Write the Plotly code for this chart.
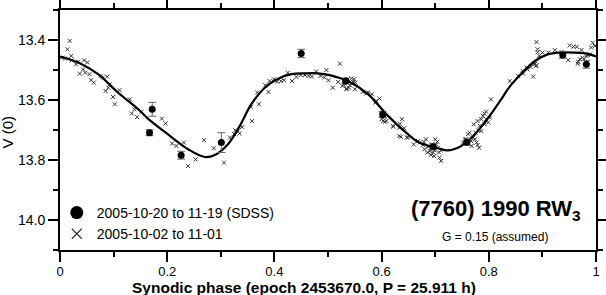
import plotly.graph_objects as go

# Fitted lightcurve
fit_phase = [0.000, 0.034, 0.071, 0.108, 0.146, 0.164, 0.201, 0.239, 0.270, 0.289, 0.313, 0.335,
             0.357, 0.382, 0.407, 0.432, 0.457, 0.481, 0.503, 0.537, 0.575, 0.612, 0.649, 0.670,
             0.705, 0.724, 0.749, 0.774, 0.799, 0.823, 0.838, 0.861, 0.886, 0.910, 0.935, 0.960,
             0.985, 1.000]
fit_mag = [13.455, 13.475, 13.514, 13.575, 13.631, 13.662, 13.714, 13.764, 13.790, 13.783, 13.748, 13.688,
           13.614, 13.559, 13.529, 13.514, 13.511, 13.511, 13.517, 13.537, 13.581, 13.653, 13.714, 13.742,
           13.761, 13.768, 13.753, 13.714, 13.659, 13.598, 13.558, 13.512, 13.470, 13.448, 13.442, 13.442,
           13.446, 13.455]

# SDSS points
sdss_phase = [0.172, 0.167, 0.226, 0.301, 0.450, 0.533, 0.602, 0.696, 0.759, 0.938, 0.982]
sdss_mag = [13.631, 13.709, 13.784, 13.742, 13.445, 13.537, 13.648, 13.756, 13.741, 13.450, 13.481]
sdss_err = [0.023, 0.010, 0.013, 0.033, 0.014, 0.010, 0.010, 0.010, 0.010, 0.011, 0.013]

# Other observations (crosses)
cross_phase = [0.004, 0.009, 0.014, 0.018, 0.021, 0.022, 0.030, 0.034, 0.037, 0.043, 0.045, 0.047,
               0.051, 0.055, 0.058, 0.063, 0.076, 0.080, 0.085, 0.088, 0.090, 0.093, 0.099, 0.102,
               0.111, 0.130, 0.134, 0.139, 0.144, 0.152, 0.190, 0.197, 0.209, 0.217, 0.231, 0.239,
               0.253, 0.269, 0.287, 0.306, 0.317, 0.325, 0.327, 0.332, 0.335, 0.340, 0.356, 0.358,
               0.368, 0.371, 0.383, 0.389, 0.391, 0.399, 0.405, 0.412, 0.418, 0.425, 0.433, 0.441,
               0.449, 0.457, 0.464, 0.470, 0.478, 0.486, 0.493, 0.497, 0.501, 0.509, 0.519, 0.522,
               0.527, 0.529, 0.531, 0.534, 0.535, 0.537, 0.539, 0.541, 0.544, 0.545, 0.547, 0.549,
               0.550, 0.551, 0.565, 0.572, 0.575, 0.582, 0.588, 0.590, 0.596, 0.600, 0.600, 0.603,
               0.606, 0.606, 0.609, 0.621, 0.622, 0.633, 0.633, 0.634, 0.636, 0.638, 0.642, 0.647,
               0.649, 0.660, 0.668, 0.671, 0.677, 0.679, 0.680, 0.683, 0.685, 0.687, 0.690, 0.692,
               0.693, 0.694, 0.696, 0.698, 0.699, 0.700, 0.702, 0.704, 0.705, 0.707, 0.708, 0.710,
               0.711, 0.752, 0.756, 0.758, 0.759, 0.761, 0.764, 0.767, 0.768, 0.771, 0.772, 0.774,
               0.775, 0.777, 0.779, 0.779, 0.781, 0.782, 0.783, 0.786, 0.786, 0.789, 0.792, 0.792,
               0.795, 0.795, 0.799, 0.802, 0.804, 0.839, 0.855, 0.863, 0.864, 0.871, 0.872, 0.878,
               0.883, 0.884, 0.886, 0.888, 0.889, 0.889, 0.891, 0.891, 0.894, 0.900, 0.911, 0.923,
               0.936, 0.948, 0.951, 0.958, 0.964, 0.966, 0.967, 0.970, 0.973, 0.975, 0.978, 0.982,
               0.985, 0.989, 0.991, 0.994, 0.998]
cross_mag = [13.459, 13.462, 13.431, 13.403, 13.453, 13.468, 13.481, 13.472, 13.512, 13.498, 13.468, 13.509,
             13.475, 13.514, 13.534, 13.542, 13.520, 13.525, 13.570, 13.522, 13.559, 13.548, 13.590, 13.614,
             13.567, 13.598, 13.645, 13.631, 13.657, 13.639, 13.662, 13.678, 13.745, 13.753, 13.742, 13.820,
             13.798, 13.734, 13.761, 13.809, 13.725, 13.714, 13.701, 13.705, 13.712, 13.690, 13.623, 13.670,
             13.575, 13.614, 13.551, 13.573, 13.537, 13.531, 13.539, 13.537, 13.534, 13.509, 13.537, 13.523,
             13.517, 13.517, 13.520, 13.522, 13.505, 13.520, 13.525, 13.500, 13.534, 13.559, 13.540, 13.479,
             13.553, 13.549, 13.537, 13.564, 13.562, 13.531, 13.559, 13.551, 13.528, 13.545, 13.540, 13.531,
             13.564, 13.542, 13.573, 13.578, 13.575, 13.581, 13.609, 13.603, 13.595, 13.664, 13.648, 13.670,
             13.673, 13.657, 13.670, 13.686, 13.689, 13.692, 13.720, 13.679, 13.723, 13.664, 13.694, 13.725,
             13.725, 13.748, 13.737, 13.742, 13.750, 13.739, 13.764, 13.731, 13.775, 13.756, 13.770, 13.783,
             13.761, 13.748, 13.775, 13.787, 13.768, 13.731, 13.748, 13.739, 13.759, 13.775, 13.792, 13.768,
             13.803, 13.742, 13.731, 13.731, 13.742, 13.714, 13.709, 13.737, 13.753, 13.725, 13.681, 13.731,
             13.709, 13.742, 13.750, 13.670, 13.701, 13.759, 13.686, 13.703, 13.664, 13.653, 13.645, 13.681,
             13.664, 13.639, 13.675, 13.659, 13.598, 13.537, 13.520, 13.503, 13.512, 13.492, 13.498, 13.490,
             13.522, 13.479, 13.480, 13.487, 13.484, 13.407, 13.431, 13.441, 13.453, 13.442, 13.442, 13.434,
             13.440, 13.467, 13.418, 13.422, 13.423, 13.479, 13.473, 13.464, 13.433, 13.459, 13.464, 13.453,
             13.450, 13.448, 13.425, 13.409, 13.420]

x_tickvals = [0, 0.2, 0.4, 0.6, 0.8, 1.0]
x_ticktext = ["0", "0.2", "0.4", "0.6", "0.8", "1"]
y_tickvals = [13.4, 13.6, 13.8, 14.0]
y_ticktext = ["13.4", "13.6", "13.8", "14.0"]

legend_sdss = "2005-10-20 to 11-19 (SDSS)"
legend_other = "2005-10-02 to 11-01"

FONT = "Liberation Sans, Arial, sans-serif"

fig = go.Figure()

fig.add_trace(go.Scatter(
    x=cross_phase, y=cross_mag, mode="markers", showlegend=False, hoverinfo="skip",
    marker=dict(symbol="x-thin", size=4, line=dict(width=1, color="#333333"), color="#333333"),
))
fig.add_trace(go.Scatter(
    x=fit_phase, y=fit_mag, mode="lines", showlegend=False, hoverinfo="skip",
    line=dict(color="black", width=2.2, shape="spline", smoothing=1.0),
))
fig.add_trace(go.Scatter(
    x=sdss_phase, y=sdss_mag, mode="markers", showlegend=False, hoverinfo="skip",
    marker=dict(symbol="circle", size=7, color="black"),
    error_y=dict(type="data", array=sdss_err, visible=True, color="#666666", thickness=1, width=4),
))
# legend entries
fig.add_trace(go.Scatter(
    x=[None], y=[None], mode="markers", name=legend_sdss,
    marker=dict(symbol="circle", size=13, color="black"),
))
fig.add_trace(go.Scatter(
    x=[None], y=[None], mode="markers", name=legend_other,
    marker=dict(symbol="x-thin", size=10, line=dict(width=1.2, color="#333333"), color="#333333"),
))

axis_common = dict(
    showgrid=False, zeroline=False, showline=True, linecolor="black", linewidth=2,
    mirror="ticks", ticks="outside", ticklen=10, tickwidth=1.5, tickcolor="black",
    automargin=False,
)

fig.update_xaxes(
    range=[0, 1], tickvals=x_tickvals, ticktext=x_ticktext,
    tickfont=dict(family=FONT, size=13, color="black"), ticklabelstandoff=-2,
    minor=dict(dtick=0.1, tick0=0, ticks="outside", ticklen=5, tickwidth=1.5, tickcolor="black"),
    **axis_common,
)
fig.update_yaxes(
    range=[14.1, 13.3], tickvals=y_tickvals, ticktext=y_ticktext,
    tickfont=dict(family=FONT, size=14, color="black"),
    minor=dict(dtick=0.1, tick0=13.3, ticks="outside", ticklen=5, tickwidth=1.5, tickcolor="black"),
    **axis_common,
)

fig.add_annotation(
    text="Synodic phase (epoch 2453670.0, P = 25.911 h)", xref="paper", yref="paper",
    x=0.455, y=-0.156, xanchor="center", yanchor="middle", showarrow=False,
    font=dict(family=FONT, size=15.5, color="black", weight="bold"),
)
fig.add_annotation(
    text="V (0)", xref="paper", yref="paper", x=(7 - 60) / 536, y=0.49,
    xanchor="center", yanchor="middle", textangle=-90, showarrow=False,
    font=dict(family=FONT, size=15, color="black"),
)
fig.add_annotation(
    text="(7760) 1990 RW<sub>3</sub>", xref="paper", yref="paper", x=0.8125, y=0.165,
    xanchor="center", yanchor="middle", showarrow=False,
    font=dict(family=FONT, size=22, color="black", weight="bold"),
)
fig.add_annotation(
    text="G = 0.15 (assumed)", xref="paper", yref="paper", x=0.812, y=0.053,
    xanchor="center", yanchor="middle", showarrow=False,
    font=dict(family=FONT, size=12, color="black"),
)

fig.update_layout(
    template="none",
    width=606, height=295,
    margin=dict(l=60, r=10, t=10, b=45, autoexpand=False),
    paper_bgcolor="white", plot_bgcolor="white",
    showlegend=True,
    hovermode=False,
    legend=dict(x=-0.006, y=0.221, xanchor="left", yanchor="top", bgcolor="rgba(0,0,0,0)",
                font=dict(family=FONT, size=14, color="black"), itemsizing="trace",
                borderwidth=0, tracegroupgap=0),
)

fig.write_html("out.html", config={"displayModeBar": False},
               post_script="document.body.style.margin='0';")
